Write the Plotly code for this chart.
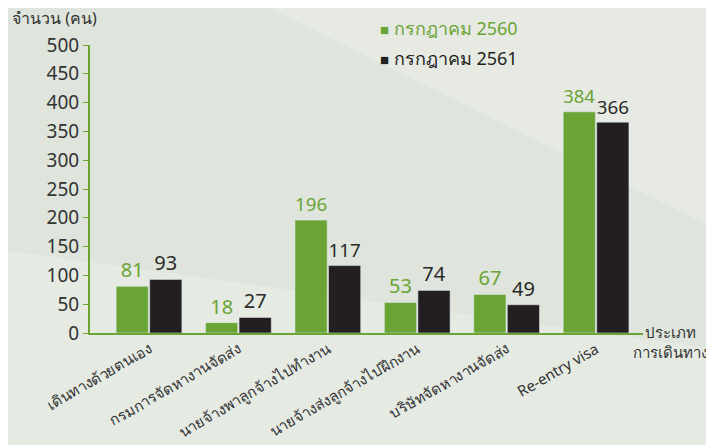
import plotly.graph_objects as go

categories = ["เดินทางด้วยตนเอง", "กรมการจัดหางานจัดส่ง", "นายจ้างพาลูกจ้างไปทำงาน",
              "นายจ้างส่งลูกจ้างไปฝึกงาน", "บริษัทจัดหางานจัดส่ง", "Re-entry visa"]
jul_2560 = [81, 18, 196, 53, 67, 384]
jul_2561 = [93, 27, 117, 74, 49, 366]
y_ticks = [0, 50, 100, 150, 200, 250, 300, 350, 400, 450, 500]
series_names = ["กรกฎาคม 2560", "กรกฎาคม 2561"]

green = "#6aa435"
dark = "#231f20"
font_family = "Tahoma, 'Noto Sans', sans-serif"

x = list(range(len(categories)))

fig = go.Figure()
fig.add_trace(go.Bar(
    x=x, y=jul_2560, name=series_names[0], showlegend=False,
    marker=dict(color=green), text=jul_2560, textposition="outside",
    textfont=dict(color=green, size=20, family=font_family), cliponaxis=False))
fig.add_trace(go.Bar(
    x=x, y=jul_2561, name=series_names[1], showlegend=False,
    marker=dict(color=dark), text=jul_2561, textposition="outside",
    textfont=dict(color="#2a2a2a", size=20, family=font_family), cliponaxis=False))

# soft background shapes
fig.add_shape(type="path", xref="paper", yref="paper",
              path="M 0.25 1.2 L 1.3 1.2 L 1.3 0.2 Z",
              fillcolor="rgba(255,255,255,0.22)", line=dict(width=0), layer="below")
fig.add_shape(type="path", xref="paper", yref="paper",
              path="M -0.2 -0.45 L 1.3 -0.45 L 1.3 -0.1 L -0.2 0.3 Z",
              fillcolor="rgba(255,255,255,0.2)", line=dict(width=0), layer="below")

fig.update_layout(
    width=714, height=445,
    margin=dict(l=82, r=79, t=37, b=114),
    paper_bgcolor="#dfe5dc", plot_bgcolor="rgba(0,0,0,0)",
    font=dict(family=font_family, color="#333333", size=16),
    barmode="group", bargap=0.25, bargroupgap=0.04,
)
fig.update_xaxes(
    range=[-0.66, 5.525], tickmode="array", tickvals=x, ticktext=categories,
    tickangle=-30, showline=True, linecolor=green, linewidth=2,
    showgrid=False, zeroline=False, ticks="", tickfont=dict(size=15, color="#333333"))
fig.update_yaxes(
    range=[0, 500], tickvals=y_ticks, showline=True, linecolor=green, linewidth=2,
    ticks="outside", tickcolor=green, ticklen=5, showgrid=False, zeroline=False,
    tickfont=dict(size=19, color="#333333"))

# legend drawn as text lines
legend_colors = [green, dark]
legend_y = [1.058, 0.955]
for name, col, ly in zip(series_names, legend_colors, legend_y):
    fig.add_annotation(
        text=f'<span style="font-size:15px">■</span> {name}', xref="paper", yref="paper",
        x=0.52, y=ly, xanchor="left", yanchor="middle", showarrow=False,
        font=dict(size=18, color=col))

fig.add_annotation(text="จำนวน (คน)", xref="paper", yref="paper", x=-0.145, y=1.093,
                   xanchor="left", yanchor="middle", showarrow=False,
                   font=dict(size=16, color="#333333"))
fig.add_annotation(text="ประเภท<br>การเดินทาง", xref="paper", yref="paper", x=1.05, y=-0.03,
                   xanchor="center", yanchor="middle", showarrow=False, align="center",
                   font=dict(size=15, color="#333333"))

fig.write_html("out.html")
